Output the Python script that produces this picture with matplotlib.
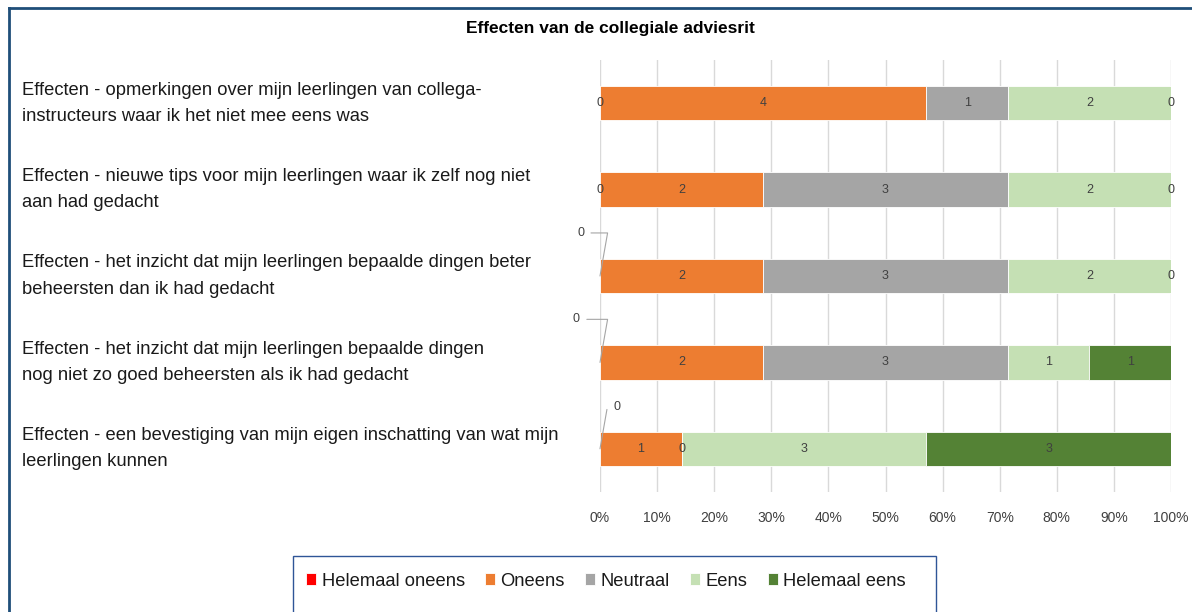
import numpy as np
import matplotlib
matplotlib.use("Agg")
import matplotlib.pyplot as plt
from matplotlib.patches import Rectangle
from matplotlib.lines import Line2D
import matplotlib.transforms as mtransforms

# ---------------------------------- data ---------------------------------- #
questions = [
    "Effecten - opmerkingen over mijn leerlingen van collega-\ninstructeurs waar ik het niet mee eens was",
    "Effecten - nieuwe tips voor mijn leerlingen waar ik zelf nog niet\naan had gedacht",
    "Effecten - het inzicht dat mijn leerlingen bepaalde dingen beter\nbeheersten dan ik had gedacht",
    "Effecten - het inzicht dat mijn leerlingen bepaalde dingen\nnog niet zo goed beheersten als ik had gedacht",
    "Effecten - een bevestiging van mijn eigen inschatting van wat mijn\nleerlingen kunnen",
]
answers = ["Helemaal oneens", "Oneens", "Neutraal", "Eens", "Helemaal eens"]
helemaal_oneens = [0, 0, 0, 0, 0]
oneens          = [4, 2, 2, 2, 1]
neutraal        = [1, 3, 3, 3, 0]
eens            = [2, 2, 2, 1, 3]
helemaal_eens   = [0, 0, 0, 1, 3]
xticks = np.arange(0, 1.01, 0.1)
title = "Effecten van de collegiale adviesrit"

colors = ["#FF0000", "#ED7D31", "#A5A5A5", "#C5E0B4", "#548235"]
# leader-line labels (row, answer) -> offset in points
leaders = {(2, 0): (-14, 31), (3, 0): (-17, 31), (4, 0): (12, 30)}

plt.rcParams['font.family'] = ['Liberation Sans', 'DejaVu Sans']

counts = np.array([helemaal_oneens, oneens, neutraal, eens, helemaal_eens], dtype=float)
share = counts / counts.sum(axis=0)
y = np.arange(len(questions))

fig = plt.figure(figsize=(11.92, 6.12), dpi=100)
W, H = 1192, 612
ax = fig.add_axes([600/W, 1-492/H, 571/W, 432/H])

left = np.zeros(len(questions))
for k, name in enumerate(answers):
    ax.barh(y, share[k], left=left, height=0.4, color=colors[k],
            edgecolor='white', linewidth=0.6, label=name, zorder=2)
    for i in range(len(questions)):
        xc = left[i] + share[k, i]/2
        txt = "%d" % counts[k, i]
        if (i, k) in leaders:
            ax.annotate(txt, xy=(left[i], y[i]), xytext=leaders[(i, k)],
                        textcoords='offset points', ha='center', va='center',
                        fontsize=9, color='#404040',
                        arrowprops=dict(arrowstyle='-', color='#A5A5A5', lw=0.8,
                                        shrinkA=3, shrinkB=0,
                                        connectionstyle='angle,angleA=0,angleB=80,rad=0'))
        else:
            ax.text(xc, y[i], txt, ha='center', va='center', fontsize=9,
                    color='#404040', zorder=3)
    left = left + share[k]

ax.set_xlim(0, 1)
ax.set_ylim(len(questions)-0.5, -0.5)
ax.set_xticks(xticks)
ax.set_xticklabels(["%d%%" % round(t*100) for t in xticks], fontsize=10, color='#404040')
ax.set_yticks([])
ax.grid(axis='x', color='#D9D9D9', lw=1, zorder=0)
ax.set_axisbelow(True)
ax.tick_params(axis='x', length=0, pad=14)
for s in ax.spines.values():
    s.set_visible(False)

# question labels on the left
trans = mtransforms.blended_transform_factory(fig.transFigure, ax.transData)
for i, q in enumerate(questions):
    ax.text(22/W, y[i], q, transform=trans, ha='left', va='center',
            fontsize=13.2, color='#1A1A1A', linespacing=1.7)

fig.text(610/W, 1-28/H, title, ha='center', va='center', fontsize=12.5,
         fontweight='bold', color='black')

# outer frame
fig.add_artist(Line2D([9/W, 9/W], [0, 1-8/H], color='#1F4E79', lw=2))
fig.add_artist(Line2D([9/W, 1], [1-8/H, 1-8/H], color='#1F4E79', lw=2))

# legend box
fig.add_artist(Rectangle((293/W, -0.1), (936-293)/W, 0.1+(612-556)/H,
                         transform=fig.transFigure, fill=False,
                         edgecolor='#2F5597', lw=1))
fig.legend(loc='center', bbox_to_anchor=(606/W, 1-581/H), ncol=5, frameon=False,
           fontsize=13.2, handlelength=0.55, handleheight=0.55, handletextpad=0.3,
           columnspacing=1.1, labelcolor='#1A1A1A')

fig.savefig('out.png', dpi=100)
